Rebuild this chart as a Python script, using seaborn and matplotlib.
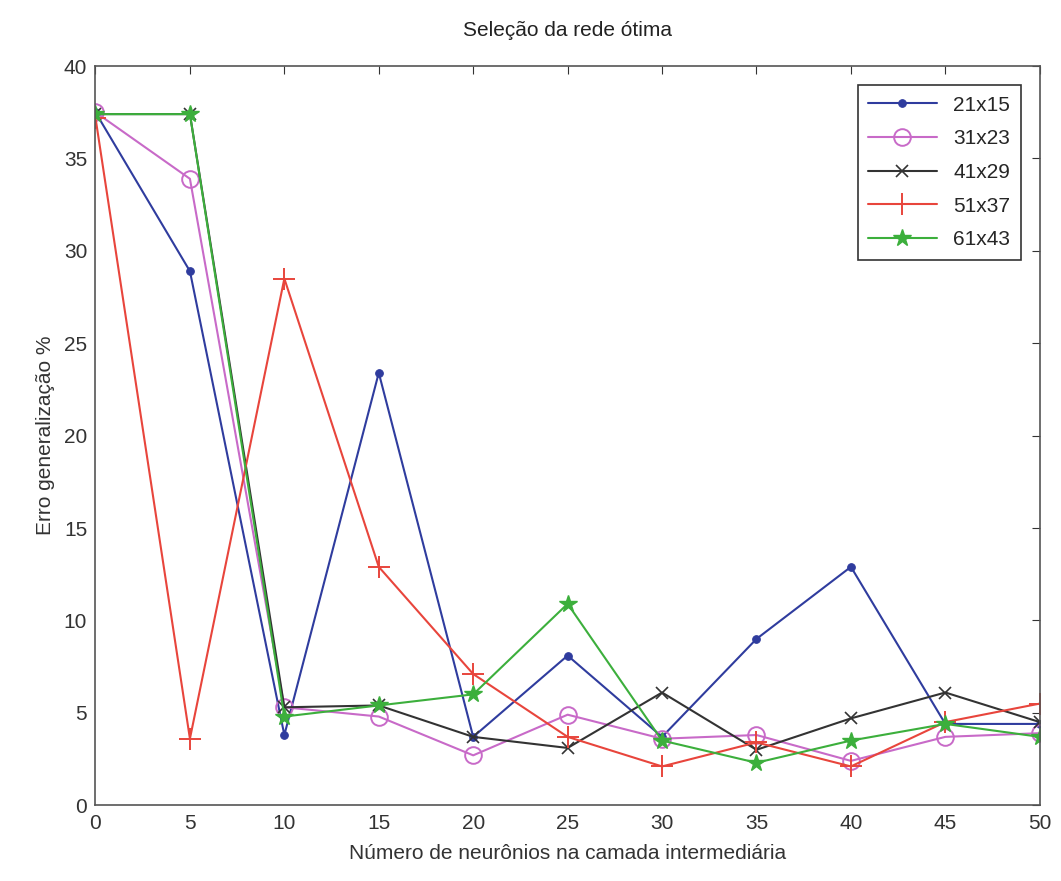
"""Recreates the 'Seleção da rede ótima' line chart."""

import matplotlib

matplotlib.use("Agg")
import matplotlib.pyplot as plt
import pandas as pd
import seaborn as sns

# Number of neurons in the hidden layer
neurons = [0, 5, 10, 15, 20, 25, 30, 35, 40, 45, 50]

# Generalisation error (%) per image size
err_21x15 = [37.5, 28.9, 3.8, 23.4, 3.7, 8.1, 3.7, 9.0, 12.9, 4.4, 4.4]
err_31x23 = [37.5, 33.9, 5.3, 4.8, 2.7, 4.9, 3.6, 3.8, 2.4, 3.7, 3.9]
err_41x29 = [37.4, 37.4, 5.3, 5.4, 3.7, 3.1, 6.1, 3.0, 4.7, 6.1, 4.5]
err_51x37 = [37.2, 3.6, 28.5, 12.9, 7.1, 3.7, 2.1, 3.4, 2.1, 4.5, 5.5]
err_61x43 = [37.4, 37.4, 4.8, 5.4, 6.0, 10.9, 3.5, 2.3, 3.5, 4.4, 3.7]

labels = ["21x15", "31x23", "41x29", "51x37", "61x43"]
series = [err_21x15, err_31x23, err_41x29, err_51x37, err_61x43]

colors = {
    "21x15": "#2f3c9e",
    "31x23": "#c86ac8",
    "41x29": "#333333",
    "51x37": "#e8453c",
    "61x43": "#3caf3c",
}
markers = {
    "21x15": dict(marker=".", markersize=11),
    "31x23": dict(marker="o", markersize=12, markerfacecolor="none",
                  markeredgewidth=1.4),
    "41x29": dict(marker="x", markersize=8, markeredgewidth=1.2),
    "51x37": dict(marker="+", markersize=16, markeredgewidth=1.4),
    "61x43": dict(marker="*", markersize=13, markeredgewidth=1.0),
}

df = pd.DataFrame(
    [(lab, x, y) for lab, vals in zip(labels, series) for x, y in zip(neurons, vals)],
    columns=["rede", "neuronios", "erro"],
)

sns.set_style("white")
plt.rcParams["font.family"] = ["Liberation Sans", "DejaVu Sans"]

fig = plt.figure(figsize=(10.61, 8.81), dpi=100)
ax = fig.add_axes([0.09, 0.086, 0.89, 0.839])

for lab in labels:
    sub = df[df["rede"] == lab]
    sns.lineplot(data=sub, x="neuronios", y="erro", ax=ax, label=lab,
                 linewidth=1.5, color=colors[lab],
                 markeredgecolor=colors[lab], **markers[lab])

ax.set_xlim(0, 50)
ax.set_ylim(0, 40)
ax.set_xticks(range(0, 51, 5))
ax.set_yticks(range(0, 41, 5))
ax.tick_params(direction="in", top=True, right=True, length=6,
               labelsize=15, colors="#333333", pad=6)
for sp in ax.spines.values():
    sp.set_color("#555555")
    sp.set_linewidth(1.2)

ax.set_title("Seleção da rede ótima", fontsize=15, color="#222222", pad=22)
ax.set_xlabel("Número de neurônios na camada intermediária", fontsize=15,
              color="#333333", labelpad=8)
ax.set_ylabel("Erro generalização %", fontsize=15, color="#333333", labelpad=6)

leg = ax.legend(loc="upper right", fontsize=15, fancybox=False, framealpha=1,
                edgecolor="#333333", handlelength=3.3, borderpad=0.5,
                labelspacing=0.7, handletextpad=0.8,
                bbox_to_anchor=(0.991, 0.988))
leg.get_frame().set_linewidth(1.2)

fig.savefig("out.png", dpi=100)
